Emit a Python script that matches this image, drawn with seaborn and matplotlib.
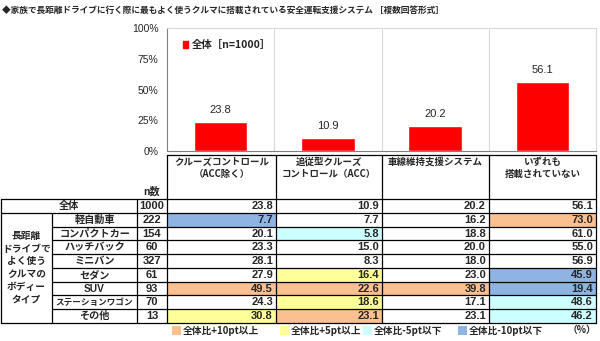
import matplotlib
matplotlib.use("Agg")
import matplotlib.pyplot as plt
import seaborn as sns
import pandas as pd
from matplotlib.patches import Rectangle, Patch

# ---------------- data ----------------
title = "◆家族で長距離ドライブに行く際に最もよく使うクルマに搭載されている安全運転支援システム ［複数回答形式］"
categories = ["クルーズコントロール\n（ACC除く）", "追従型クルーズ\nコントロール（ACC）",
              "車線維持支援システム", "いずれも\n搭載されていない"]
overall = [23.8, 10.9, 20.2, 56.1]
legend_label = "全体［n=1000］"
y_ticks = [0, 25, 50, 75, 100]

group_label = "長距離\nドライブで\nよく使う\nクルマの\nボディー\nタイプ"
body_types = ["軽自動車", "コンパクトカー", "ハッチバック", "ミニバン", "セダン", "SUV",
              "ステーションワゴン", "その他"]
overall_n = 1000
body_n = [222, 154, 60, 327, 61, 93, 70, 13]
body_values = [
    [7.7, 7.7, 16.2, 73.0],
    [20.1, 5.8, 18.8, 61.0],
    [23.3, 15.0, 20.0, 55.0],
    [28.1, 8.3, 18.0, 56.9],
    [27.9, 16.4, 23.0, 45.9],
    [49.5, 22.6, 39.8, 19.4],
    [24.3, 18.6, 17.1, 48.6],
    [30.8, 23.1, 23.1, 46.2],
]
key_labels = ["全体比+10pt以上", "全体比+5pt以上", "全体比-5pt以下", "全体比-10pt以下"]
unit_label = "（%）"

# ---------------- style ----------------
sns.set_style("white")
JP = "Noto Sans CJK JP"
plt.rcParams["font.family"] = [JP, "DejaVu Sans"]
NUM = ["Liberation Sans", JP]

RED = "#FF0000"
C_PLUS10 = "#FAC090"
C_PLUS5 = "#FFFF99"
C_MINUS5 = "#CCFFFF"
C_MINUS10 = "#8DB4E2"
key_colors = [C_PLUS10, C_PLUS5, C_MINUS5, C_MINUS10]


def cell_color(v, base):
    d = round(v - base, 1)
    if d >= 10:
        return C_PLUS10
    if d >= 5:
        return C_PLUS5
    if d <= -10:
        return C_MINUS10
    if d <= -5:
        return C_MINUS5
    return None


W, H = 600, 341
fig = plt.figure(figsize=(W / 100, H / 100), dpi=100)

# ---------------- bar chart ----------------
x0, x1, ytop, ybot = 167, 596, 28, 151
ax = fig.add_axes([x0 / W, 1 - ybot / H, (x1 - x0) / W, (ybot - ytop) / H])
df = pd.DataFrame({"cat": categories, "val": overall})
sns.barplot(data=df, x="cat", y="val", color=RED, saturation=1, width=0.5, ax=ax)
ax.set_xlim(-0.5, len(categories) - 0.5)
ax.set_ylim(0, 100)
ax.set_yticks(y_ticks)
ax.set_yticklabels([f"{t}%" for t in y_ticks], fontsize=7.5, family=NUM)
ax.set_xticks([])
ax.set_xlabel("")
ax.set_ylabel("")
ax.tick_params(axis="y", length=2, width=0.6, color="#808080", pad=4)
for i in range(1, len(categories)):
    ax.axvline(i - 0.5, color="#D9D9D9", lw=0.8, zorder=0)
for s in ["top", "right"]:
    ax.spines[s].set_color("#D9D9D9")
    ax.spines[s].set_linewidth(0.8)
for s in ["left", "bottom"]:
    ax.spines[s].set_color("#808080")
    ax.spines[s].set_linewidth(0.8)
for i, v in enumerate(overall):
    ax.text(i, v + 9.5, f"{v:.1f}", ha="center", va="center", fontsize=8, family=NUM)
ax.legend(handles=[Patch(color=RED, label=legend_label)], loc="center left",
          bbox_to_anchor=(0.038, 0.86), frameon=False, handlelength=0.45,
          handleheight=0.6, handletextpad=0.35, borderpad=0, borderaxespad=0,
          prop={"family": JP, "size": 7.5, "weight": "bold"})

# ---------------- table ----------------
tax = fig.add_axes([0, 0, 1, 1])
tax.set_xlim(0, W)
tax.set_ylim(H, 0)
tax.axis("off")
tax.patch.set_alpha(0)

tax.text(2, 10, title, fontsize=6.25, weight="bold", va="center", ha="left")

cols = [1, 52, 137, 167, 276, 382, 489, 596]
data_cols = cols[3:]
htop = 155
rtop = 199
rh = 13.75
nrows = 1 + len(body_types)
rbot = rtop + rh * nrows
lw = 0.9
k = "black"

# header
tax.plot([cols[3], cols[-1]], [htop, htop], color=k, lw=lw)
for xc in data_cols:
    tax.plot([xc, xc], [htop, rtop], color=k, lw=lw)
for j, c in enumerate(categories):
    cx = (data_cols[j] + data_cols[j + 1]) / 2
    tax.text(cx, htop + 2, c, ha="center", va="top", fontsize=6.8, weight="bold",
             linespacing=1.25)
tax.text((cols[2] + cols[3]) / 2, 192, "n数", ha="center", va="center", fontsize=7.3,
         weight="bold")

# cell fills
all_rows = [overall] + body_values
for r, vals in enumerate(all_rows):
    if r == 0:
        continue
    for j, v in enumerate(vals):
        colr = cell_color(v, overall[j])
        if colr:
            tax.add_patch(Rectangle((data_cols[j], rtop + r * rh), data_cols[j + 1] - data_cols[j],
                                    rh, facecolor=colr, edgecolor="none", zorder=1))

# horizontal lines
tax.plot([cols[0], cols[-1]], [rtop, rtop], color=k, lw=lw, zorder=3)
tax.plot([cols[0], cols[-1]], [rtop + rh, rtop + rh], color=k, lw=lw, zorder=3)
for r in range(2, nrows):
    y = rtop + r * rh
    tax.plot([cols[1], cols[-1]], [y, y], color=k, lw=lw, zorder=3)
tax.plot([cols[0], cols[-1]], [rbot, rbot], color=k, lw=lw, zorder=3)
# vertical lines
tax.plot([cols[0], cols[0]], [rtop, rbot], color=k, lw=lw, zorder=3)
tax.plot([cols[1], cols[1]], [rtop + rh, rbot], color=k, lw=lw, zorder=3)
for xc in cols[2:]:
    tax.plot([xc, xc], [rtop, rbot], color=k, lw=lw, zorder=3)

# row texts
def rc(r):
    return rtop + r * rh + rh / 2 + 0.3

tax.text((cols[0] + cols[2]) / 2, rc(0), "全体", ha="center", va="center", fontsize=7.3,
         weight="bold", zorder=4)
tax.text((cols[2] + cols[3]) / 2, rc(0), str(overall_n), ha="center", va="center",
         fontsize=8, weight="bold", family=NUM, zorder=4)
for j, v in enumerate(overall):
    tax.text(data_cols[j + 1] - 3, rc(0), f"{v:.1f}", ha="right", va="center", fontsize=8,
             weight="bold", family=NUM, zorder=4)

tax.text((cols[0] + cols[1]) / 2, rtop + rh + rh * len(body_types) / 2, group_label,
         ha="center", va="center", fontsize=7, weight="bold", linespacing=1.33, zorder=4)
for i, (bt, n, vals) in enumerate(zip(body_types, body_n, body_values)):
    r = i + 1
    fs = 6.2 if len(bt) > 8 else 7.3
    tax.text((cols[1] + cols[2]) / 2, rc(r), bt, ha="center", va="center", fontsize=fs,
             weight="bold", zorder=4, family=NUM if bt == "SUV" else [JP])
    tax.text((cols[2] + cols[3]) / 2, rc(r), str(n), ha="center", va="center", fontsize=8,
             weight="bold", family=NUM, zorder=4)
    for j, v in enumerate(vals):
        tax.text(data_cols[j + 1] - 3, rc(r), f"{v:.1f}", ha="right", va="center",
                 fontsize=8, weight="bold", family=NUM, zorder=4)

# bottom key
key_x = [172, 280, 363, 458]
ky = 330.5
for xk, lab, colr in zip(key_x, key_labels, key_colors):
    tax.add_patch(Rectangle((xk, ky - 4.5), 9, 9, facecolor=colr, edgecolor="none"))
    tax.text(xk + 11, ky, lab, ha="left", va="center", fontsize=7, weight="bold")
tax.text(596, ky, unit_label, ha="right", va="center", fontsize=7, weight="bold")

fig.savefig("out.png", dpi=100)
